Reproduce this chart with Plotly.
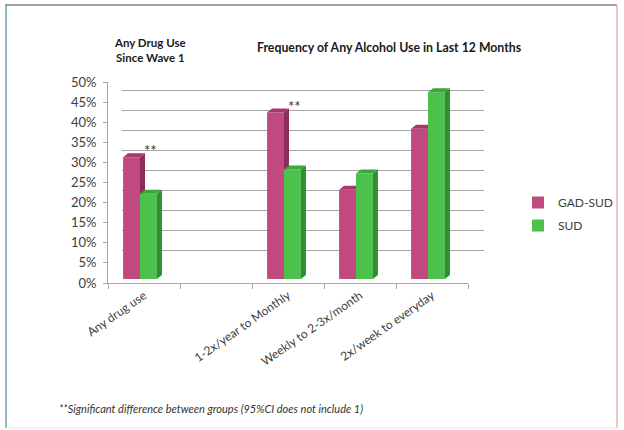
import plotly.graph_objects as go

# ---- data ----
categories = ["Any drug use", "", "1-2x/year to Monthly", "Weekly to 2-3x/month", "2x/week to everyday"]
gad_sud = [0.30, None, 0.41, 0.22, 0.37]
sud = [0.21, None, 0.27, 0.26, 0.46]
series_names = ["GAD-SUD", "SUD"]
significant = [True, False, True, False, False]
y_ticks = [0, 0.05, 0.10, 0.15, 0.20, 0.25, 0.30, 0.35, 0.40, 0.45, 0.50]

# ---- layout constants (pixels) ----
W, H = 624, 430
FRONT_X = (108, 468)
FRONT_Y = (283, 82)
BACK_X = (122, 484)
BACK_Y = (271, 70)
BAR_X = (104, 464)
BAR_Y = (279, 76)
DEPTH_PX = (5, 4)
BARGAP = 0.53

PINK = "#C0497F"; PINK_SIDE = "#8C2C5A"; PINK_TOP = "#A8386C"
GREEN = "#4CC14B"; GREEN_SIDE = "#2E8E31"; GREEN_TOP = "#3AA83A"
GRID = "#A6A6A6"
FONT = "Lato"


def xdom(px):
    return [px[0] / W, px[1] / W]


def ydom(py):
    return [1 - py[0] / H, 1 - py[1] / H]


n = len(categories)
xs = list(range(n))
xrange_ = [-0.5, n - 0.5]
yrange_ = [0, 0.5]

# data units per pixel on bar axes
dx = DEPTH_PX[0] * (xrange_[1] - xrange_[0]) / (BAR_X[1] - BAR_X[0])
dy = DEPTH_PX[1] * (yrange_[1] - yrange_[0]) / (BAR_Y[0] - BAR_Y[1])
bw = (1 - BARGAP) / 2

fig = go.Figure()

# dummy trace for back-wall grid
fig.add_trace(go.Scatter(x=[0], y=[0], xaxis="x2", yaxis="y2", mode="markers",
                         marker=dict(opacity=0), showlegend=False, hoverinfo="skip"))
# dummy for front axes
fig.add_trace(go.Scatter(x=[0], y=[0], xaxis="x", yaxis="y", mode="markers",
                         marker=dict(opacity=0), showlegend=False, hoverinfo="skip"))

fig.add_trace(go.Bar(x=xs, y=gad_sud, name=series_names[0], marker=dict(color=PINK, line=dict(width=0)),
                     xaxis="x3", yaxis="y3", legendgroup="a"))
fig.add_trace(go.Bar(x=xs, y=sud, name=series_names[1], marker=dict(color=GREEN, line=dict(width=0)),
                     xaxis="x3", yaxis="y3", legendgroup="b"))

# 3D faces
ps_x, ps_y, pt_x, pt_y, gs_x, gs_y, gt_x, gt_y = [], [], [], [], [], [], [], []
for i in xs:
    vp, vg = gad_sud[i], sud[i]
    if vp is None:
        continue
    pl, pr = i - bw, i
    gl, gr = i, i + bw
    if vp > vg:
        ps_x += [pr, pr + dx, pr + dx, pr, None]
        ps_y += [vp, vp + dy, vg, vg, None]
        pt_x += [pl, pr, pr + dx, pl + dx, None]
        pt_y += [vp, vp, vp + dy, vp + dy, None]
    else:
        pt_x += [pl, pr, pr, pl + dx, None]
        pt_y += [vp, vp, vp + dy, vp + dy, None]
    gs_x += [gr, gr + dx, gr + dx, gr, None]
    gs_y += [vg, vg + dy, dy, 0, None]
    gt_x += [gl, gr, gr + dx, gl + dx, None]
    gt_y += [vg, vg, vg + dy, vg + dy, None]

for fx, fy, col in [(ps_x, ps_y, PINK_SIDE), (pt_x, pt_y, PINK_TOP), (gs_x, gs_y, GREEN_SIDE), (gt_x, gt_y, GREEN_TOP)]:
    fig.add_trace(go.Scatter(x=fx, y=fy, xaxis="x3", yaxis="y3", mode="lines", fill="toself",
                             fillcolor=col, line=dict(width=0, color=col), showlegend=False,
                             hoverinfo="skip"))

# significance markers
ann = []
for i in xs:
    if significant[i] and gad_sud[i] is not None:
        ann.append(dict(x=i + bw * 0.6, y=gad_sud[i] + dy, xref="x3", yref="y3", text="**",
                        showarrow=False, yanchor="bottom", xanchor="center",
                        font=dict(family=FONT, size=15, color="#333333"), yshift=-8))

# diagonal grid connectors and floor edge
shapes = []
for v in y_ticks:
    shapes.append(dict(type="line", xref="x2", yref="y2", xsizemode="pixel", ysizemode="pixel",
                       xanchor=xrange_[0], yanchor=v, x0=-(BACK_X[0] - FRONT_X[0]), x1=0,
                       y0=-(FRONT_Y[0] - BACK_Y[0]), y1=0, line=dict(color=GRID, width=1)))
shapes.append(dict(type="line", xref="x2", yref="y2", xsizemode="pixel", ysizemode="pixel",
                   xanchor=xrange_[1], yanchor=0, x0=-(BACK_X[1] - FRONT_X[1]), x1=0,
                   y0=-(FRONT_Y[0] - BACK_Y[0]), y1=0, line=dict(color=GRID, width=1)))
# frame
shapes += [
    dict(type="line", xref="paper", yref="paper", x0=5 / W, x1=617 / W, y0=1 - 5 / H, y1=1 - 5 / H,
         line=dict(color="#A0A0A0", width=2)),
    dict(type="line", xref="paper", yref="paper", x0=6 / W, x1=6 / W, y0=1 - 5 / H, y1=1 - 428 / H,
         line=dict(color="#5FA6AC", width=1.5)),
    dict(type="line", xref="paper", yref="paper", x0=617 / W, x1=617 / W, y0=1 - 5 / H, y1=1 - 428 / H,
         line=dict(color="#E8B4B4", width=1.5)),
    dict(type="line", xref="paper", yref="paper", x0=6 / W, x1=617 / W, y0=1 - 428 / H, y1=1 - 428 / H,
         line=dict(color="#E6E6E6", width=1)),
]

ann += [
    dict(x=150 / W, y=1 - 50 / H, xref="paper", yref="paper", text="<b>Any Drug Use<br>Since Wave 1</b>",
         xanchor="center", yanchor="middle",
         showarrow=False, font=dict(family=FONT, size=11.5, color="#1a1a1a"), align="center"),
    dict(x=389 / W, y=1 - 47 / H, xref="paper", yref="paper", xanchor="center", yanchor="middle",
         text="<b>Frequency of Any Alcohol Use in Last 12 Months</b>",
         showarrow=False, font=dict(family=FONT, size=12.3, color="#1a1a1a")),
    dict(x=57 / W, y=1 - 408 / H, xref="paper", yref="paper", xanchor="left", yanchor="middle",
         text="<i>**Significant difference between groups (95%CI does not include 1)</i>",
         showarrow=False, font=dict(family=FONT, size=11, color="#333333")),
]

fig.update_layout(
    width=W, height=H,
    margin=dict(l=0, r=0, t=0, b=0, autoexpand=False),
    paper_bgcolor="white", plot_bgcolor="rgba(0,0,0,0)",
    barmode="group", bargap=BARGAP, bargroupgap=0,
    font=dict(family=FONT, color="#404040"),
    xaxis=dict(domain=xdom(FRONT_X), range=xrange_, anchor="y", showgrid=False, zeroline=False,
               showline=True, linecolor=GRID, linewidth=1,
               tickmode="array", tickvals=xs, ticktext=categories, ticks="", tickangle=-35,
               tickfont=dict(family=FONT, size=12, color="#404040"),
               minor=dict(ticks="outside", tickmode="array", tickvals=[i - 0.5 for i in range(n + 1)],
                          ticklen=5, tickcolor=GRID, showgrid=False)),
    yaxis=dict(domain=ydom(FRONT_Y), range=yrange_, anchor="x", showgrid=False, zeroline=False,
               showline=True, linecolor=GRID, linewidth=1, tickmode="array", tickvals=y_ticks,
               tickformat=".0%", ticks="outside", ticklen=4, tickcolor=GRID,
               tickfont=dict(family=FONT, size=13, color="#404040"), ticklabelstandoff=4),
    xaxis2=dict(domain=xdom(BACK_X), range=xrange_, anchor="y2", visible=True, showgrid=False,
                showticklabels=False, ticks="", zeroline=False, showline=False),
    yaxis2=dict(domain=ydom(BACK_Y), range=yrange_, anchor="x2", showgrid=True, gridcolor=GRID,
                gridwidth=1, tickmode="array", tickvals=y_ticks, showticklabels=False, ticks="",
                zeroline=False, showline=False),
    xaxis3=dict(domain=xdom(BAR_X), range=xrange_, anchor="y3", visible=False),
    yaxis3=dict(domain=ydom(BAR_Y), range=yrange_, anchor="x3", visible=False),
    legend=dict(x=518 / W, y=1 - 188 / H, xanchor="left", yanchor="top", traceorder="grouped",
                tracegroupgap=4, font=dict(family=FONT, size=12, color="#404040"),
                bgcolor="rgba(0,0,0,0)", itemwidth=30),
    shapes=shapes, annotations=ann,
    hovermode=False,
)

fig.write_html("out.html", config={"displayModeBar": False},
               post_script="document.body.style.margin='0';document.body.style.overflow='hidden';")
